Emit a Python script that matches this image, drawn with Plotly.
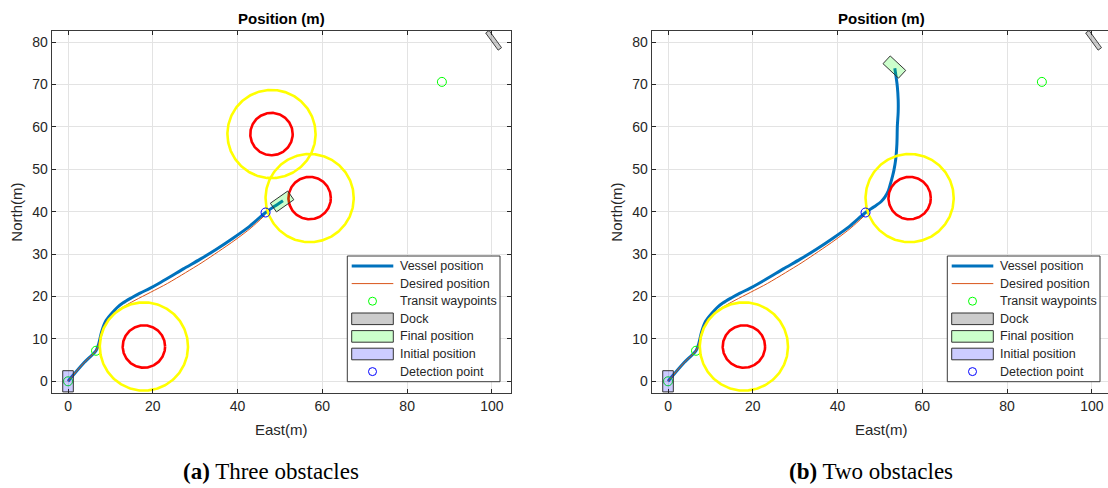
import numpy as np
import plotly.graph_objects as go

W, H = 1108, 488

# ---------------- data ----------------
x_ticks = [0, 20, 40, 60, 80, 100]
y_ticks = [0, 10, 20, 30, 40, 50, 60, 70, 80]

# desired path (same reference in both runs)
desired_east = [0.0, 3.6, 6.6, 7.2, 7.9, 9.0, 10.6, 12.6, 15.8, 19.5, 23.5, 27.7,
                31.6, 35.5, 39.4, 43.2, 46.4]
desired_north = [0.0, 4.2, 7.2, 8.7, 11.6, 14.0, 15.9, 17.3, 19.1, 21.0, 23.1, 25.6,
                 28.0, 30.6, 33.3, 36.2, 39.1]

# vessel track, three obstacles
vessel_east_a = [0.0, 3.6, 6.6, 7.2, 7.9, 8.9, 10.3, 11.6, 13.0, 15.0, 17.0, 19.3,
                 21.3, 24.2, 27.2, 31.2, 35.1, 39.0, 42.9, 46.6, 48.6, 50.7]
vessel_north_a = [0.0, 4.2, 7.2, 8.7, 11.6, 14.2, 16.0, 17.4, 18.5, 19.7, 20.8, 21.9,
                  23.0, 24.7, 26.5, 28.8, 31.2, 33.8, 36.6, 39.8, 41.2, 42.6]

# vessel track, two obstacles
vessel_east_b = [0.0, 3.6, 6.6, 7.2, 7.9, 8.9, 10.3, 11.6, 13.0, 15.0, 17.0, 19.3,
                 21.3, 24.2, 27.2, 31.2, 35.1, 39.0, 42.9, 46.6, 48.7, 50.3, 51.2,
                 52.0, 52.4, 53.0, 53.3, 53.7, 54.0, 54.1, 54.3, 54.3, 54.1, 53.9, 53.5]
vessel_north_b = [0.0, 4.2, 7.2, 8.7, 11.6, 14.2, 16.0, 17.4, 18.5, 19.7, 20.8, 21.9,
                  23.0, 24.7, 26.5, 28.8, 31.2, 33.8, 36.6, 39.8, 41.2, 42.4, 43.5,
                  45.0, 46.3, 48.5, 49.8, 52.2, 56.0, 60.1, 63.5, 66.4, 69.5, 71.1, 73.8]

waypoint_east = [0.0, 6.6, 88.2]
waypoint_north = [0.0, 7.2, 70.6]

detection_east = [46.6]
detection_north = [39.8]

obstacle_east_a = [17.9, 48.0, 57.0]
obstacle_north_a = [8.2, 58.3, 43.2]
obstacle_east_b = [17.9, 57.0]
obstacle_north_b = [8.2, 43.2]
obstacle_radius = 5.0
safety_radius = 10.4

vessel_length, vessel_width = 5.0, 2.5
initial_pose = (0.0, 0.0, 0.0)          # east, north, heading (deg)
final_pose_a = (50.5, 42.4, 55.0)
final_pose_b = (53.4, 74.1, -47.0)
dock_pose = (100.4, 80.4, -36.0)
dock_length, dock_width = 5.0, 1.0

captions = ["<b>(a)</b> Three obstacles", "<b>(b)</b> Two obstacles"]

# ---------------- style ----------------
VESSEL = "#0072BD"
DESIRED = "#D95319"
SAFETY = "#FFFF00"
OBST = "#FF0000"
WP = "#00FF00"
DET = "#0000FF"
SANS = "Liberation Sans, Arial, sans-serif"
SERIF = "Liberation Serif, Times New Roman, serif"
TXT = "#262626"


def circle_xy(cx, cy, r, n=241):
    t = np.linspace(0, 2 * np.pi, n)
    return cx + r * np.cos(t), cy + r * np.sin(t)


def hull(east, north, psi_deg, length, width):
    psi = np.radians(psi_deg)
    fwd = np.array([length / 2, length / 2, -length / 2, -length / 2, length / 2])
    stb = np.array([-width / 2, width / 2, width / 2, -width / 2, -width / 2])
    e = east + fwd * np.sin(psi) + stb * np.cos(psi)
    n = north + fwd * np.cos(psi) - stb * np.sin(psi)
    return e, n


fig = go.Figure()


def add_panel(xa, ya, v_e, v_n, obs_e, obs_n, final_pose):
    kw = dict(xaxis=xa, yaxis=ya, showlegend=False, hoverinfo="skip")
    fig.add_trace(go.Scatter(x=v_e, y=v_n, mode="lines",
                             line=dict(color=VESSEL, width=3, shape="spline", smoothing=0.8), **kw))
    fig.add_trace(go.Scatter(x=desired_east, y=desired_north, mode="lines",
                             line=dict(color=DESIRED, width=1, shape="spline", smoothing=0.8), **kw))
    fig.add_trace(go.Scatter(x=waypoint_east, y=waypoint_north, mode="markers",
                             marker=dict(symbol="circle-open", size=9, color=WP, line=dict(width=1)), **kw))
    for ce, cn in zip(obs_e, obs_n):
        e, n = circle_xy(ce, cn, safety_radius)
        fig.add_trace(go.Scatter(x=e, y=n, mode="lines", line=dict(color=SAFETY, width=2.6), **kw))
    for ce, cn in zip(obs_e, obs_n):
        e, n = circle_xy(ce, cn, obstacle_radius)
        fig.add_trace(go.Scatter(x=e, y=n, mode="lines", line=dict(color=OBST, width=2.6), **kw))
    e, n = hull(*dock_pose, dock_length, dock_width)
    fig.add_trace(go.Scatter(x=e, y=n, mode="lines", fill="toself", fillcolor="rgba(0,0,0,0.2)",
                             line=dict(color="#404040", width=1), **kw))
    e, n = hull(*final_pose, vessel_length, vessel_width)
    fig.add_trace(go.Scatter(x=e, y=n, mode="lines", fill="toself", fillcolor="rgba(0,255,0,0.2)",
                             line=dict(color="#333333", width=1), **kw))
    e, n = hull(*initial_pose, vessel_length, vessel_width)
    fig.add_trace(go.Scatter(x=e, y=n, mode="lines", fill="toself", fillcolor="rgba(0,0,255,0.2)",
                             line=dict(color="#333333", width=1), **kw))
    fig.add_trace(go.Scatter(x=detection_east, y=detection_north, mode="markers",
                             marker=dict(symbol="circle-open", size=9, color=DET, line=dict(width=1)), **kw))


add_panel("x", "y", vessel_east_a, vessel_north_a, obstacle_east_a, obstacle_north_a, final_pose_a)
add_panel("x2", "y2", vessel_east_b, vessel_north_b, obstacle_east_b, obstacle_north_b, final_pose_b)

# ---------------- axes ----------------
y_dom = [1 - 393 / H, 1 - 31 / H]
y_rng = [-2.76, 82.6]
axis_common = dict(ticks="inside", ticklen=4, tickcolor="#262626", tickwidth=1,
                   showgrid=True, gridcolor="#E3E3E3", gridwidth=1, zeroline=False,
                   showline=True, linecolor="#3a3a3a", linewidth=1,
                   tickfont=dict(family=SANS, size=14, color=TXT))
fig.update_layout(
    xaxis=dict(domain=[51.7 / W, 511 / W], range=[-3.85, 104.5], tickvals=x_ticks,
               mirror="ticks", anchor="y", **axis_common),
    yaxis=dict(domain=y_dom, range=y_rng, tickvals=y_ticks, mirror="ticks", anchor="x",
               **axis_common),
    xaxis2=dict(domain=[651.7 / W, 1.0], range=[-3.85, 103.8], tickvals=x_ticks,
                mirror="ticks", anchor="y2", **axis_common),
    yaxis2=dict(domain=y_dom, range=y_rng, tickvals=y_ticks, mirror=False, anchor="x2",
                **axis_common),
)

# ---------------- titles, labels, captions, legend boxes ----------------
ann = []
shapes = []


def px(x):
    return x / W


def py(y):
    return 1 - y / H


for k, off in enumerate([0, 600]):
    ann.append(dict(text="<b>Position (m)</b>", x=px(281.3 + off), y=py(19), xref="paper", yref="paper",
                    showarrow=False, xanchor="center", yanchor="middle",
                    font=dict(family=SANS, size=15, color="#000000")))
    ann.append(dict(text="East(m)", x=px(281.7 + off), y=py(429), xref="paper", yref="paper",
                    showarrow=False, xanchor="center", yanchor="middle",
                    font=dict(family=SANS, size=15, color=TXT)))
    ann.append(dict(text="North(m)", x=px(16.7 + off), y=py(212), xref="paper", yref="paper",
                    showarrow=False, xanchor="center", yanchor="middle", textangle=-90,
                    font=dict(family=SANS, size=15, color=TXT)))
    ann.append(dict(text=captions[k], x=px(270.5 + off), y=py(471), xref="paper", yref="paper",
                    showarrow=False, xanchor="center", yanchor="middle",
                    font=dict(family=SERIF, size=23, color="#000000")))

    # legend box
    lx0, ly0, lx1, ly1 = 347.3 + off, 256, 500 + off, 381.7
    shapes.append(dict(type="rect", xref="paper", yref="paper", x0=px(lx0), x1=px(lx1),
                       y0=py(ly1), y1=py(ly0), fillcolor="white", line=dict(color="#3a3a3a", width=1)))
    rows = ["Vessel position", "Desired position", "Transit waypoints", "Dock",
            "Final position", "Initial position", "Detection point"]
    s0, s1 = 351.7 + off, 393.3 + off
    for i, label in enumerate(rows):
        yc = 266 + 17.6 * i
        ann.append(dict(text=label, x=px(398.3 + off), y=py(yc), xref="paper", yref="paper",
                        showarrow=False, xanchor="left", yanchor="middle",
                        font=dict(family=SANS, size=12.5, color=TXT)))
        if i == 0:
            shapes.append(dict(type="line", xref="paper", yref="paper", x0=px(s0), x1=px(s1),
                               y0=py(yc), y1=py(yc), line=dict(color=VESSEL, width=3)))
        elif i == 1:
            shapes.append(dict(type="line", xref="paper", yref="paper", x0=px(s0), x1=px(s1),
                               y0=py(yc), y1=py(yc), line=dict(color=DESIRED, width=1)))
        elif i in (2, 6):
            col = WP if i == 2 else DET
            shapes.append(dict(type="circle", xref="paper", yref="paper",
                               xsizemode="pixel", ysizemode="pixel",
                               xanchor=px((s0 + s1) / 2), yanchor=py(yc),
                               x0=-4, x1=4, y0=-4, y1=4, line=dict(color=col, width=1)))
        else:
            fill = {3: "#CCCCCC", 4: "#CCFFCC", 5: "#CCCCFF"}[i]
            shapes.append(dict(type="rect", xref="paper", yref="paper", x0=px(s0), x1=px(s1),
                               y0=py(yc + 5.8), y1=py(yc - 5.8), fillcolor=fill,
                               line=dict(color="#333333", width=1)))

fig.update_layout(
    width=W, height=H, margin=dict(l=0, r=0, t=0, b=0),
    paper_bgcolor="white", plot_bgcolor="white",
    annotations=ann, shapes=shapes, showlegend=False,
)

fig.write_html("out.html")
